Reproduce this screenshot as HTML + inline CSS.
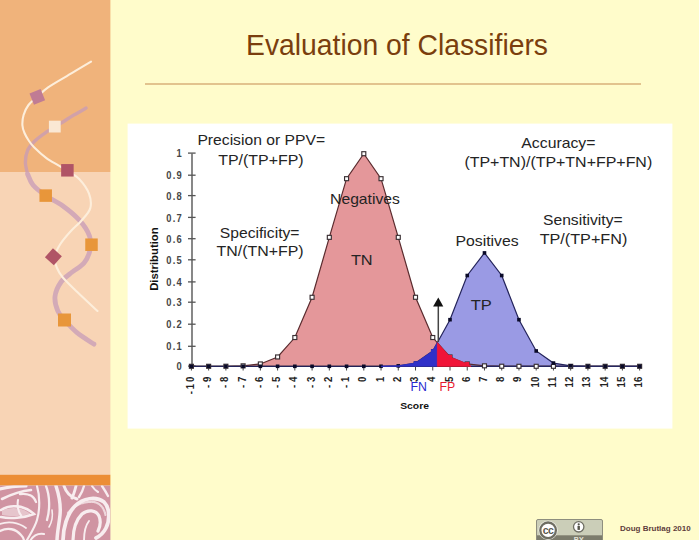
<!DOCTYPE html>
<html><head><meta charset="utf-8"><title>Evaluation of Classifiers</title>
<style>
html,body{margin:0;padding:0;background:#FFFCCB;}
body{width:699px;height:540px;overflow:hidden;position:relative;font-family:"Liberation Sans",sans-serif;}
svg{position:absolute;left:0;top:0;display:block;}
text{font-family:"Liberation Sans",sans-serif;}
</style></head><body>
<svg width="699" height="540" viewBox="0 0 699 540">
<defs>
<filter id="soft" x="-5%" y="-5%" width="110%" height="110%"><feGaussianBlur stdDeviation="0.7"/></filter>
<clipPath id="pc"><rect x="0" y="485.5" width="110" height="55"/></clipPath>
</defs>
<rect x="0" y="0" width="699" height="540" fill="#FFFCCB"/>

<rect x="0" y="0" width="110.4" height="172" fill="#F0B37B"/>
<rect x="0" y="172" width="110.4" height="303" fill="#F8D4B5"/>
<rect x="0" y="474.8" width="110.4" height="10.7" fill="#EC8E36"/>
<rect x="0" y="485.5" width="110.4" height="55" fill="#D094A2"/>
<g clip-path="url(#pc)" fill="none" stroke="#F8EDEF" stroke-linecap="round">
<path d="M0 489 C8 487 16 486 26 486" stroke-width="3.19"/>
<path d="M2 499 C10 495 20 491 31 490" stroke-width="2.61"/>
<path d="M20 494 C28 493 34 496 36 502" stroke-width="2.32"/>
<path d="M18 500 C17 506 18 512 22 517" stroke-width="2.03"/>
<path d="M1 510 C10 504 24 505 34 514 C24 518 10 519 1 517" stroke-width="2.61"/>
<path d="M0 524 C8 521 18 522 26 528" stroke-width="1.74"/>
<path d="M37 486 C40 496 40 510 37 520 C35 527 31 533 27 540" stroke-width="2.17"/>
<path d="M46 486 C50 496 50 510 47 520" stroke-width="2.32"/>
<path d="M0 531 C8 527 16 529 21 535 C23 537 24 539 24 541" stroke-width="2.32"/>
<path d="M30 541 C33 536 38 533 44 534" stroke-width="2.03"/>
<path d="M56 486 C59 495 61 505 60 515 C59 525 57 533 57 541" stroke-width="3.48"/>
<path d="M64 486 C66 492 70 497 77 499" stroke-width="2.9"/>
<path d="M76 486 C75 490 74 494 72 498" stroke-width="2.9"/>
<path d="M84 486 C83 490 81 494 79 497" stroke-width="2.32"/>
<path d="M63 541 C63 528 67 514 75 506 C83 498 96 496 104 502 C110 508 110 520 106 528 C104 532 100 536 96 538" stroke-width="3.77"/>
<path d="M73 541 C73 530 76 520 82 514 C88 509 96 510 99 516 C101 521 100 527 98 531" stroke-width="3.19"/>
<path d="M84 541 C84 533 85 526 89 521" stroke-width="1.89"/>
<path d="M92 486 C94 489 96 491 98 492" stroke-width="2.03"/>
<path d="M102 486 C104 489 106 492 108 496" stroke-width="2.32"/>
<path d="M49 527 C52 522 53 516 52 510" stroke-width="1.59"/>
<path d="M2 511 C10 506 22 507 31 514 C22 516 10 517 2 515Z" fill="#F8EDEF" stroke="none" opacity="0.55"/>
<path d="M68 513 C74 505 84 501 94 502 C100 503 104 508 105.5 515" stroke-width="2.2" stroke-dasharray="1.2 1.3" opacity="0.75"/>
</g>
<g opacity="0.74" fill="none" stroke="#C79BB8" stroke-linecap="round"><path d="M86.1 108.1 C84.13 109.22 78.25 112.45 74.3 114.8 C70.35 117.15 67.35 119.12 62.4 122.2 C57.45 125.28 49.28 130.08 44.6 133.3 C39.92 136.52 37.13 138.65 34.3 141.5 C31.47 144.35 29.08 146.95 27.6 150.4 C26.12 153.85 25.4 158.25 25.4 162.2 C25.4 166.15 27.23 172.12 27.6 174.1" stroke-width="3.4"/><path d="M27.6 174.1 C28.5 175.92 29.98 181.42 33 185 C36.02 188.58 40.77 192.15 45.7 195.6 C50.63 199.05 56.98 201.6 62.6 205.7 C68.22 209.8 74.92 215.15 79.4 220.2 C83.88 225.25 87.73 231.03 89.5 236 C91.27 240.97 90.92 245.5 90 250 C89.08 254.5 86.97 259.33 84 263 C81.03 266.67 76.03 268.83 72.2 272 C68.37 275.17 63.87 277.92 61 282 C58.13 286.08 55.53 291.68 55 296.5 C54.47 301.32 56.22 306.98 57.8 310.9 C59.38 314.82 61.3 316.38 64.5 320 C67.7 323.62 72.1 328.58 77 332.6 C81.9 336.62 91.08 342.18 93.9 344.1" stroke-width="4.8"/></g>
<path d="M91 61.6 C87.87 63.48 79.35 68.62 72.2 72.9 C65.05 77.18 53.92 83.3 48.1 87.3 C42.28 91.3 40.57 93.95 37.3 96.9 C34.03 99.85 30.78 101.98 28.5 105 C26.22 108.02 24.62 111.63 23.6 115 C22.58 118.37 22.25 122.2 22.4 125.2 C22.55 128.2 23.4 130.37 24.5 133 C25.6 135.63 27.37 138.6 29 141 C30.63 143.4 31.45 144.6 34.3 147.4 C37.15 150.2 42.15 154.83 46.1 157.8 C50.05 160.77 54.43 163.05 58 165.2 C61.57 167.35 63.93 168.35 67.5 170.7 C71.07 173.05 75.82 175.47 79.4 179.3 C82.98 183.13 87.18 188.9 89 193.7 C90.82 198.5 91.5 203.68 90.3 208.1 C89.1 212.52 85.22 216.18 81.8 220.2 C78.38 224.22 73.4 228.2 69.8 232.2 C66.2 236.2 62.75 240.07 60.2 244.2 C57.65 248.33 55.03 253.03 54.5 257 C53.97 260.97 55.65 264.63 57 268 C58.35 271.37 59.27 273.25 62.6 277.2 C65.93 281.15 71.18 286.07 77 291.7 C82.82 297.33 94.08 307.78 97.5 311" fill="none" stroke="#FDEEDB" stroke-width="2.1" stroke-linecap="round"/>
<rect x="31.3" y="90.9" width="12" height="12" fill="#C07C94" transform="rotate(-22 37.3 96.9)"/>
<rect x="48.9" y="120.7" width="11.8" height="11.8" fill="#FAE8D4" transform="rotate(0 54.8 126.6)"/>
<rect x="61.15" y="164.05" width="12.5" height="12.5" fill="#B05466" transform="rotate(0 67.4 170.3)"/>
<rect x="39.45" y="189.35" width="12.5" height="12.5" fill="#E8963A" transform="rotate(0 45.7 195.6)"/>
<rect x="85.25" y="238.45" width="12.5" height="12.5" fill="#E8963A" transform="rotate(0 91.5 244.7)"/>
<rect x="47.4" y="250.8" width="12" height="12" fill="#B05466" transform="rotate(42 53.4 256.8)"/>
<rect x="58" y="313.5" width="13" height="13" fill="#E8963A" transform="rotate(0 64.5 320)"/>
<text x="246.0" y="54.8" font-size="30" fill="#7A3E0E" textLength="302" lengthAdjust="spacingAndGlyphs">Evaluation of Classifiers</text>
<rect x="145" y="83" width="496" height="2" fill="#E2C38E"/>
<rect x="127.6" y="123.6" width="544.8" height="305" fill="#FFFFFF" filter="url(#soft)"/>
<polygon points="191.4,366.3 208.64,366.29 225.88,366.23 243.12,365.83 260.36,363.94 277.6,356.96 294.84,337.53 312.08,297.28 329.32,237.35 346.56,178.68 363.8,153.7 381.04,178.68 398.28,237.35 415.52,297.28 432.76,337.53 450,356.96 467.24,363.94 484.48,365.83 501.72,366.23 518.96,366.29 536.2,366.3 553.44,366.3 570.68,366.3 587.92,366.3 605.16,366.3 622.4,366.3 639.64,366.3 639.64,366.3 191.4,366.3" fill="#E4979A"/>
<polygon points="191.4,366.3 208.64,366.3 225.88,366.3 243.12,366.3 260.36,366.3 277.6,366.3 294.84,366.3 312.08,366.3 329.32,366.3 346.56,366.3 363.8,366.3 381.04,366.26 398.28,365.86 415.52,363.06 432.76,350.96 450,319.69 467.24,275.51 484.48,252.92 501.72,275.51 518.96,319.69 536.2,350.96 553.44,363.06 570.68,365.86 587.92,366.26 605.16,366.3 622.4,366.3 639.64,366.3 639.64,366.3 191.4,366.3" fill="#9A9AE4"/>
<line x1="192" y1="153.6" x2="192" y2="366.6" stroke="#555" stroke-width="1.4"/>
<line x1="188" y1="366.1" x2="195.6" y2="366.1" stroke="#555" stroke-width="1.3"/>
<line x1="188" y1="346.3" x2="195.6" y2="346.3" stroke="#555" stroke-width="1.3"/>
<line x1="188" y1="324.2" x2="195.6" y2="324.2" stroke="#555" stroke-width="1.3"/>
<line x1="188" y1="302.2" x2="195.6" y2="302.2" stroke="#555" stroke-width="1.3"/>
<line x1="188" y1="281.9" x2="195.6" y2="281.9" stroke="#555" stroke-width="1.3"/>
<line x1="188" y1="259.8" x2="195.6" y2="259.8" stroke="#555" stroke-width="1.3"/>
<line x1="188" y1="238.7" x2="195.6" y2="238.7" stroke="#555" stroke-width="1.3"/>
<line x1="188" y1="217.4" x2="195.6" y2="217.4" stroke="#555" stroke-width="1.3"/>
<line x1="188" y1="195.6" x2="195.6" y2="195.6" stroke="#555" stroke-width="1.3"/>
<line x1="188" y1="175.2" x2="195.6" y2="175.2" stroke="#555" stroke-width="1.3"/>
<line x1="188" y1="153.1" x2="195.6" y2="153.1" stroke="#555" stroke-width="1.3"/>
<line x1="191" y1="366.3" x2="641" y2="366.3" stroke="#222" stroke-width="1.3"/>
<line x1="191.4" y1="366.3" x2="191.4" y2="370.5" stroke="#444" stroke-width="1"/>
<line x1="208.64" y1="366.3" x2="208.64" y2="370.5" stroke="#444" stroke-width="1"/>
<line x1="225.88" y1="366.3" x2="225.88" y2="370.5" stroke="#444" stroke-width="1"/>
<line x1="243.12" y1="366.3" x2="243.12" y2="370.5" stroke="#444" stroke-width="1"/>
<line x1="260.36" y1="366.3" x2="260.36" y2="370.5" stroke="#444" stroke-width="1"/>
<line x1="277.6" y1="366.3" x2="277.6" y2="370.5" stroke="#444" stroke-width="1"/>
<line x1="294.84" y1="366.3" x2="294.84" y2="370.5" stroke="#444" stroke-width="1"/>
<line x1="312.08" y1="366.3" x2="312.08" y2="370.5" stroke="#444" stroke-width="1"/>
<line x1="329.32" y1="366.3" x2="329.32" y2="370.5" stroke="#444" stroke-width="1"/>
<line x1="346.56" y1="366.3" x2="346.56" y2="370.5" stroke="#444" stroke-width="1"/>
<line x1="363.8" y1="366.3" x2="363.8" y2="370.5" stroke="#444" stroke-width="1"/>
<line x1="381.04" y1="366.3" x2="381.04" y2="370.5" stroke="#444" stroke-width="1"/>
<line x1="398.28" y1="366.3" x2="398.28" y2="370.5" stroke="#444" stroke-width="1"/>
<line x1="415.52" y1="366.3" x2="415.52" y2="370.5" stroke="#444" stroke-width="1"/>
<line x1="432.76" y1="366.3" x2="432.76" y2="370.5" stroke="#444" stroke-width="1"/>
<line x1="450" y1="366.3" x2="450" y2="370.5" stroke="#444" stroke-width="1"/>
<line x1="467.24" y1="366.3" x2="467.24" y2="370.5" stroke="#444" stroke-width="1"/>
<line x1="484.48" y1="366.3" x2="484.48" y2="370.5" stroke="#444" stroke-width="1"/>
<line x1="501.72" y1="366.3" x2="501.72" y2="370.5" stroke="#444" stroke-width="1"/>
<line x1="518.96" y1="366.3" x2="518.96" y2="370.5" stroke="#444" stroke-width="1"/>
<line x1="536.2" y1="366.3" x2="536.2" y2="370.5" stroke="#444" stroke-width="1"/>
<line x1="553.44" y1="366.3" x2="553.44" y2="370.5" stroke="#444" stroke-width="1"/>
<line x1="570.68" y1="366.3" x2="570.68" y2="370.5" stroke="#444" stroke-width="1"/>
<line x1="587.92" y1="366.3" x2="587.92" y2="370.5" stroke="#444" stroke-width="1"/>
<line x1="605.16" y1="366.3" x2="605.16" y2="370.5" stroke="#444" stroke-width="1"/>
<line x1="622.4" y1="366.3" x2="622.4" y2="370.5" stroke="#444" stroke-width="1"/>
<line x1="639.64" y1="366.3" x2="639.64" y2="370.5" stroke="#444" stroke-width="1"/>
<text transform="translate(181.6 370.2) scale(0.9 1)" font-size="10.4" font-weight="bold" fill="#464646" text-anchor="end">0</text>
<text transform="translate(181.6 350.4) scale(0.9 1)" font-size="10.4" font-weight="bold" fill="#464646" text-anchor="end" textLength="17" lengthAdjust="spacing">0.1</text>
<text transform="translate(181.6 328.3) scale(0.9 1)" font-size="10.4" font-weight="bold" fill="#464646" text-anchor="end" textLength="17" lengthAdjust="spacing">0.2</text>
<text transform="translate(181.6 306.3) scale(0.9 1)" font-size="10.4" font-weight="bold" fill="#464646" text-anchor="end" textLength="17" lengthAdjust="spacing">0.3</text>
<text transform="translate(181.6 286) scale(0.9 1)" font-size="10.4" font-weight="bold" fill="#464646" text-anchor="end" textLength="17" lengthAdjust="spacing">0.4</text>
<text transform="translate(181.6 263.9) scale(0.9 1)" font-size="10.4" font-weight="bold" fill="#464646" text-anchor="end" textLength="17" lengthAdjust="spacing">0.5</text>
<text transform="translate(181.6 242.8) scale(0.9 1)" font-size="10.4" font-weight="bold" fill="#464646" text-anchor="end" textLength="17" lengthAdjust="spacing">0.6</text>
<text transform="translate(181.6 221.5) scale(0.9 1)" font-size="10.4" font-weight="bold" fill="#464646" text-anchor="end" textLength="17" lengthAdjust="spacing">0.7</text>
<text transform="translate(181.6 199.7) scale(0.9 1)" font-size="10.4" font-weight="bold" fill="#464646" text-anchor="end" textLength="17" lengthAdjust="spacing">0.8</text>
<text transform="translate(181.6 179.3) scale(0.9 1)" font-size="10.4" font-weight="bold" fill="#464646" text-anchor="end" textLength="17" lengthAdjust="spacing">0.9</text>
<text transform="translate(181.6 157.2) scale(0.9 1)" font-size="10.4" font-weight="bold" fill="#464646" text-anchor="end">1</text>
<text transform="translate(193.9 376.6) rotate(-90) scale(1 1.12)" font-size="9.6" font-weight="bold" fill="#222" text-anchor="end" textLength="17.7" lengthAdjust="spacing">-10</text>
<text transform="translate(211.14 376.6) rotate(-90) scale(1 1.12)" font-size="9.6" font-weight="bold" fill="#222" text-anchor="end" textLength="11.4" lengthAdjust="spacing">-9</text>
<text transform="translate(228.38 376.6) rotate(-90) scale(1 1.12)" font-size="9.6" font-weight="bold" fill="#222" text-anchor="end" textLength="11.4" lengthAdjust="spacing">-8</text>
<text transform="translate(245.62 376.6) rotate(-90) scale(1 1.12)" font-size="9.6" font-weight="bold" fill="#222" text-anchor="end" textLength="11.4" lengthAdjust="spacing">-7</text>
<text transform="translate(262.86 376.6) rotate(-90) scale(1 1.12)" font-size="9.6" font-weight="bold" fill="#222" text-anchor="end" textLength="11.4" lengthAdjust="spacing">-6</text>
<text transform="translate(280.1 376.6) rotate(-90) scale(1 1.12)" font-size="9.6" font-weight="bold" fill="#222" text-anchor="end" textLength="11.4" lengthAdjust="spacing">-5</text>
<text transform="translate(297.34 376.6) rotate(-90) scale(1 1.12)" font-size="9.6" font-weight="bold" fill="#222" text-anchor="end" textLength="11.4" lengthAdjust="spacing">-4</text>
<text transform="translate(314.58 376.6) rotate(-90) scale(1 1.12)" font-size="9.6" font-weight="bold" fill="#222" text-anchor="end" textLength="11.4" lengthAdjust="spacing">-3</text>
<text transform="translate(331.82 376.6) rotate(-90) scale(1 1.12)" font-size="9.6" font-weight="bold" fill="#222" text-anchor="end" textLength="11.4" lengthAdjust="spacing">-2</text>
<text transform="translate(349.06 376.6) rotate(-90) scale(1 1.12)" font-size="9.6" font-weight="bold" fill="#222" text-anchor="end" textLength="11.4" lengthAdjust="spacing">-1</text>
<text transform="translate(366.3 376.6) rotate(-90) scale(1 1.12)" font-size="9.6" font-weight="bold" fill="#222" text-anchor="end">0</text>
<text transform="translate(383.54 376.6) rotate(-90) scale(1 1.12)" font-size="9.6" font-weight="bold" fill="#222" text-anchor="end">1</text>
<text transform="translate(400.78 376.6) rotate(-90) scale(1 1.12)" font-size="9.6" font-weight="bold" fill="#222" text-anchor="end">2</text>
<text transform="translate(418.02 376.6) rotate(-90) scale(1 1.12)" font-size="9.6" font-weight="bold" fill="#222" text-anchor="end">3</text>
<text transform="translate(435.26 376.6) rotate(-90) scale(1 1.12)" font-size="9.6" font-weight="bold" fill="#222" text-anchor="end">4</text>
<text transform="translate(452.5 376.6) rotate(-90) scale(1 1.12)" font-size="9.6" font-weight="bold" fill="#222" text-anchor="end">5</text>
<text transform="translate(469.74 376.6) rotate(-90) scale(1 1.12)" font-size="9.6" font-weight="bold" fill="#222" text-anchor="end">6</text>
<text transform="translate(486.98 376.6) rotate(-90) scale(1 1.12)" font-size="9.6" font-weight="bold" fill="#222" text-anchor="end">7</text>
<text transform="translate(504.22 376.6) rotate(-90) scale(1 1.12)" font-size="9.6" font-weight="bold" fill="#222" text-anchor="end">8</text>
<text transform="translate(521.46 376.6) rotate(-90) scale(1 1.12)" font-size="9.6" font-weight="bold" fill="#222" text-anchor="end">9</text>
<text transform="translate(538.7 376.6) rotate(-90) scale(1 1.12)" font-size="9.6" font-weight="bold" fill="#222" text-anchor="end" textLength="10.8" lengthAdjust="spacing">10</text>
<text transform="translate(555.94 376.6) rotate(-90) scale(1 1.12)" font-size="9.6" font-weight="bold" fill="#222" text-anchor="end" textLength="10.8" lengthAdjust="spacing">11</text>
<text transform="translate(573.18 376.6) rotate(-90) scale(1 1.12)" font-size="9.6" font-weight="bold" fill="#222" text-anchor="end" textLength="10.8" lengthAdjust="spacing">12</text>
<text transform="translate(590.42 376.6) rotate(-90) scale(1 1.12)" font-size="9.6" font-weight="bold" fill="#222" text-anchor="end" textLength="10.8" lengthAdjust="spacing">13</text>
<text transform="translate(607.66 376.6) rotate(-90) scale(1 1.12)" font-size="9.6" font-weight="bold" fill="#222" text-anchor="end" textLength="10.8" lengthAdjust="spacing">14</text>
<text transform="translate(624.9 376.6) rotate(-90) scale(1 1.12)" font-size="9.6" font-weight="bold" fill="#222" text-anchor="end" textLength="10.8" lengthAdjust="spacing">15</text>
<text transform="translate(642.14 376.6) rotate(-90) scale(1 1.12)" font-size="9.6" font-weight="bold" fill="#222" text-anchor="end" textLength="10.8" lengthAdjust="spacing">16</text>
<polyline points="191.4,366.3 208.64,366.29 225.88,366.23 243.12,365.83 260.36,363.94 277.6,356.96 294.84,337.53 312.08,297.28 329.32,237.35 346.56,178.68 363.8,153.7 381.04,178.68 398.28,237.35 415.52,297.28 432.76,337.53 450,356.96 467.24,363.94 484.48,365.83 501.72,366.23 518.96,366.29 536.2,366.3 553.44,366.3 570.68,366.3 587.92,366.3 605.16,366.3 622.4,366.3 639.64,366.3" fill="none" stroke="#5A2B2E" stroke-width="1.2"/>
<polyline points="191.4,366.3 208.64,366.3 225.88,366.3 243.12,366.3 260.36,366.3 277.6,366.3 294.84,366.3 312.08,366.3 329.32,366.3 346.56,366.3 363.8,366.3 381.04,366.26 398.28,365.86 415.52,363.06 432.76,350.96 450,319.69 467.24,275.51 484.48,252.92 501.72,275.51 518.96,319.69 536.2,350.96 553.44,363.06 570.68,365.86 587.92,366.26 605.16,366.3 622.4,366.3 639.64,366.3" fill="none" stroke="#23235A" stroke-width="1.2"/>
<line x1="470.24" y1="366.3" x2="641" y2="366.3" stroke="#262660" stroke-width="1.2"/>
<rect x="189.4" y="364.3" width="4" height="4" fill="#fff" stroke="#3A3034" stroke-width="1.15"/>
<rect x="206.64" y="364.29" width="4" height="4" fill="#fff" stroke="#3A3034" stroke-width="1.15"/>
<rect x="223.88" y="364.23" width="4" height="4" fill="#fff" stroke="#3A3034" stroke-width="1.15"/>
<rect x="241.12" y="363.83" width="4" height="4" fill="#fff" stroke="#3A3034" stroke-width="1.15"/>
<rect x="258.36" y="361.94" width="4" height="4" fill="#fff" stroke="#3A3034" stroke-width="1.15"/>
<rect x="275.6" y="354.96" width="4" height="4" fill="#fff" stroke="#3A3034" stroke-width="1.15"/>
<rect x="292.84" y="335.53" width="4" height="4" fill="#fff" stroke="#3A3034" stroke-width="1.15"/>
<rect x="310.08" y="295.28" width="4" height="4" fill="#fff" stroke="#3A3034" stroke-width="1.15"/>
<rect x="327.32" y="235.35" width="4" height="4" fill="#fff" stroke="#3A3034" stroke-width="1.15"/>
<rect x="344.56" y="176.68" width="4" height="4" fill="#fff" stroke="#3A3034" stroke-width="1.15"/>
<rect x="361.8" y="151.7" width="4" height="4" fill="#fff" stroke="#3A3034" stroke-width="1.15"/>
<rect x="379.04" y="176.68" width="4" height="4" fill="#fff" stroke="#3A3034" stroke-width="1.15"/>
<rect x="396.28" y="235.35" width="4" height="4" fill="#fff" stroke="#3A3034" stroke-width="1.15"/>
<rect x="413.52" y="295.28" width="4" height="4" fill="#fff" stroke="#3A3034" stroke-width="1.15"/>
<rect x="430.76" y="335.53" width="4" height="4" fill="#fff" stroke="#3A3034" stroke-width="1.15"/>
<rect x="448" y="354.96" width="4" height="4" fill="#fff" stroke="#3A3034" stroke-width="1.15"/>
<rect x="465.24" y="361.94" width="4" height="4" fill="#fff" stroke="#3A3034" stroke-width="1.15"/>
<rect x="482.48" y="363.83" width="4" height="4" fill="#fff" stroke="#3A3034" stroke-width="1.15"/>
<rect x="499.72" y="364.23" width="4" height="4" fill="#fff" stroke="#3A3034" stroke-width="1.15"/>
<rect x="516.96" y="364.29" width="4" height="4" fill="#fff" stroke="#3A3034" stroke-width="1.15"/>
<rect x="534.2" y="364.3" width="4" height="4" fill="#fff" stroke="#3A3034" stroke-width="1.15"/>
<rect x="551.44" y="364.3" width="4" height="4" fill="#fff" stroke="#3A3034" stroke-width="1.15"/>
<rect x="568.68" y="364.3" width="4" height="4" fill="#fff" stroke="#3A3034" stroke-width="1.15"/>
<rect x="585.92" y="364.3" width="4" height="4" fill="#fff" stroke="#3A3034" stroke-width="1.15"/>
<rect x="603.16" y="364.3" width="4" height="4" fill="#fff" stroke="#3A3034" stroke-width="1.15"/>
<rect x="620.4" y="364.3" width="4" height="4" fill="#fff" stroke="#3A3034" stroke-width="1.15"/>
<rect x="637.64" y="364.3" width="4" height="4" fill="#fff" stroke="#3A3034" stroke-width="1.15"/>
<rect x="189.6" y="364.5" width="3.6" height="3.6" fill="#0A0A28"/>
<rect x="206.84" y="364.5" width="3.6" height="3.6" fill="#0A0A28"/>
<rect x="224.08" y="364.5" width="3.6" height="3.6" fill="#0A0A28"/>
<rect x="241.32" y="364.5" width="3.6" height="3.6" fill="#0A0A28"/>
<rect x="258.56" y="364.5" width="3.6" height="3.6" fill="#0A0A28"/>
<rect x="275.8" y="364.5" width="3.6" height="3.6" fill="#0A0A28"/>
<rect x="293.04" y="364.5" width="3.6" height="3.6" fill="#0A0A28"/>
<rect x="310.28" y="364.5" width="3.6" height="3.6" fill="#0A0A28"/>
<rect x="327.52" y="364.5" width="3.6" height="3.6" fill="#0A0A28"/>
<rect x="344.76" y="364.5" width="3.6" height="3.6" fill="#0A0A28"/>
<rect x="362" y="364.5" width="3.6" height="3.6" fill="#0A0A28"/>
<rect x="379.24" y="364.46" width="3.6" height="3.6" fill="#0A0A28"/>
<rect x="396.48" y="364.06" width="3.6" height="3.6" fill="#0A0A28"/>
<rect x="413.72" y="361.26" width="3.6" height="3.6" fill="#0A0A28"/>
<rect x="430.96" y="349.16" width="3.6" height="3.6" fill="#0A0A28"/>
<rect x="448.2" y="317.89" width="3.6" height="3.6" fill="#0A0A28"/>
<rect x="465.44" y="273.71" width="3.6" height="3.6" fill="#0A0A28"/>
<rect x="482.68" y="251.12" width="3.6" height="3.6" fill="#0A0A28"/>
<rect x="499.92" y="273.71" width="3.6" height="3.6" fill="#0A0A28"/>
<rect x="517.16" y="317.89" width="3.6" height="3.6" fill="#0A0A28"/>
<rect x="534.4" y="349.16" width="3.6" height="3.6" fill="#0A0A28"/>
<rect x="551.64" y="361.26" width="3.6" height="3.6" fill="#0A0A28"/>
<rect x="568.88" y="364.06" width="3.6" height="3.6" fill="#0A0A28"/>
<rect x="586.12" y="364.46" width="3.6" height="3.6" fill="#0A0A28"/>
<rect x="603.36" y="364.5" width="3.6" height="3.6" fill="#0A0A28"/>
<rect x="620.6" y="364.5" width="3.6" height="3.6" fill="#0A0A28"/>
<rect x="637.84" y="364.5" width="3.6" height="3.6" fill="#0A0A28"/>
<polygon points="381.04,366.3 381.04,366.26 398.28,365.86 415.52,363.06 432.76,350.96 437.33,342.67 437.33,366.3" fill="#3030C8" stroke="#3030C8" stroke-width="0.8"/>
<polygon points="437.33,366.3 437.33,342.67 450,356.96 467.24,363.94 471.04,366.3" fill="#F01438" stroke="#F01438" stroke-width="0.8"/>
<rect x="430.96" y="349.16" width="3.6" height="3.6" fill="#3030C8"/>
<rect x="413.72" y="361.26" width="3.6" height="3.6" fill="#3030C8"/>
<rect x="448" y="354.96" width="4" height="4" fill="#F01438"/>
<rect x="465.24" y="361.94" width="4" height="4" fill="#F01438"/>
<line x1="438.3" y1="342" x2="438.3" y2="305" stroke="#444" stroke-width="1.5"/>
<polygon points="438.3,297.5 433.1,306.5 443.3,306.5" fill="#111"/>
<text transform="translate(157.8 259.1) rotate(-90)" font-size="10" font-weight="bold" fill="#111" text-anchor="middle" textLength="63.4" lengthAdjust="spacingAndGlyphs">Distribution</text>
<text x="400.2" y="409.1" font-size="9.5" font-weight="bold" fill="#111" textLength="28.8" lengthAdjust="spacingAndGlyphs">Score</text>
<text x="410.6" y="390.8" font-size="12.3" fill="#2828D0">FN</text>
<text x="439.6" y="390.8" font-size="12.3" fill="#E8182E">FP</text>
<text x="197.4" y="145.4" font-size="14.6" fill="#242424" textLength="127.7" lengthAdjust="spacingAndGlyphs">Precision or PPV=</text>
<text x="218.2" y="164.7" font-size="14.6" fill="#242424" textLength="85.5" lengthAdjust="spacingAndGlyphs">TP/(TP+FP)</text>
<text x="219.8" y="237.7" font-size="14.6" fill="#242424" textLength="79.7" lengthAdjust="spacingAndGlyphs">Specificity=</text>
<text x="216.6" y="256.3" font-size="14.6" fill="#242424" textLength="87" lengthAdjust="spacingAndGlyphs">TN/(TN+FP)</text>
<text x="330.1" y="203.8" font-size="14.6" fill="#242424" textLength="69.7" lengthAdjust="spacingAndGlyphs">Negatives</text>
<text x="350.9" y="264.9" font-size="14.6" fill="#242424" textLength="21.8" lengthAdjust="spacingAndGlyphs">TN</text>
<text x="521.3" y="148" font-size="14.6" fill="#242424" textLength="74.2" lengthAdjust="spacingAndGlyphs">Accuracy=</text>
<text x="464.4" y="166.8" font-size="14.6" fill="#242424" textLength="187.8" lengthAdjust="spacingAndGlyphs">(TP+TN)/(TP+TN+FP+FN)</text>
<text x="455.5" y="245.8" font-size="14.6" fill="#242424" textLength="63.2" lengthAdjust="spacingAndGlyphs">Positives</text>
<text x="543" y="225.4" font-size="14.6" fill="#242424" textLength="79.6" lengthAdjust="spacingAndGlyphs">Sensitivity=</text>
<text x="539.7" y="244.4" font-size="14.6" fill="#242424" textLength="87.6" lengthAdjust="spacingAndGlyphs">TP/(TP+FN)</text>
<text x="470.7" y="309.5" font-size="14.6" fill="#242424" textLength="21.1" lengthAdjust="spacingAndGlyphs">TP</text>
<g>
<rect x="536.5" y="519.5" width="66" height="24" rx="1.5" fill="#CBCEB8" stroke="#8E8E7E" stroke-width="1"/>
<rect x="537" y="535.3" width="65" height="5" fill="#7C7C6C"/>
<circle cx="548.1" cy="530.3" r="9.6" fill="#F2F2EA"/>
<circle cx="548.1" cy="530.3" r="7.8" fill="#fff" stroke="#6E6E62" stroke-width="2.3"/>
<text x="547.9" y="533.6" font-size="10.5" font-weight="bold" fill="#5A5A50" text-anchor="middle" letter-spacing="-0.6">cc</text>
<circle cx="578.7" cy="526.8" r="5.2" fill="#fff" stroke="#6E6E62" stroke-width="1.3"/>
<circle cx="578.7" cy="524.3" r="1.1" fill="#55554A"/>
<rect x="577.5" y="525.9" width="2.4" height="4" fill="#55554A"/>
<text x="578.7" y="541.5" font-size="7" font-weight="bold" fill="#E6E6DA" text-anchor="middle">BY</text>
</g>
<text x="620" y="530.9" font-size="8" font-weight="bold" fill="#5E3C3C">Doug Brutlag 2010</text>
</svg>
</body></html>
